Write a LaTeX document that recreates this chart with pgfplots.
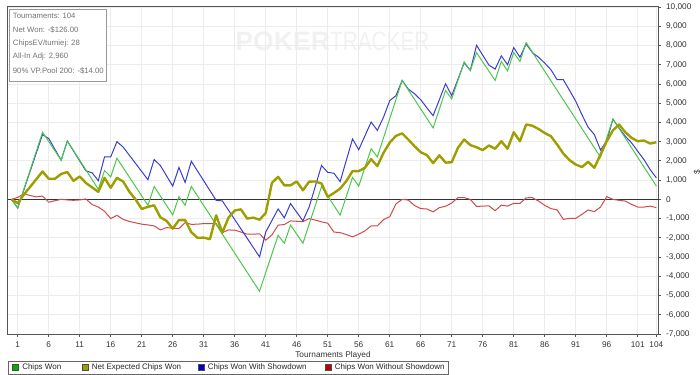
\documentclass[border=0pt]{standalone}
\usepackage{fontspec}
\setmainfont{Liberation Sans}
\usepackage{graphicx}
\usepackage{pgfplots}
\pgfplotsset{compat=1.18}
\definecolor{cgreen}{RGB}{75,200,75}
\definecolor{colive}{RGB}{158,158,0}
\definecolor{cblue}{RGB}{60,60,205}
\definecolor{cred}{RGB}{205,75,75}
\definecolor{gridc}{RGB}{236,236,236}
\definecolor{axc}{RGB}{85,85,85}
\definecolor{infotext}{RGB}{115,115,115}
\definecolor{wm}{RGB}{241,241,241}
\begin{document}
\begin{tikzpicture}
\path[use as bounding box] (0,0) rectangle (525pt,281.25pt);
% watermark
\node[anchor=west, inner sep=0pt, text=wm] at (176.25pt,250.5pt)
  {\fontsize{20}{20}\selectfont\bfseries POKER\mdseries\scalebox{0.78}[1]{TRACKER}};
\begin{axis}[
  at={(5.625pt,30.75pt)}, anchor=south west,
  scale only axis, width=488.25pt, height=245.25pt,
  xmin=-0.65, xmax=104.35, ymin=-7000, ymax=10000,
  xtick={1,6,...,101,104},
  ytick={-7000,-6000,...,10000},
  scaled y ticks=false, scaled x ticks=false,
  xtick pos=bottom, ytick pos=right, yticklabel pos=right,
  grid=major, grid style={gridc, line width=0.6pt},
  axis line style={axc, line width=0.75pt},
  tick style={axc, line width=0.6pt},
  tick align=outside, major tick length=2.2pt,
  ticklabel style={font=\fontsize{6.2}{7}\selectfont, text=black!80},
  /pgf/number format/assume math mode=true,
  /pgf/number format/1000 sep={,},
  xlabel={Tournaments Played},
  xlabel style={font=\fontsize{6.2}{7}\selectfont, text=black!80, yshift=4pt},
  clip=false,
]
\draw[black!80, line width=0.75pt] (axis cs:-0.65,0) -- (axis cs:104.35,0);
% Chips Won Without Showdown
\addplot[cred, line width=0.75pt] coordinates {
(0,0) (1,100) (2,290) (3,200) (4,130) (5,170) (6,-150) (7,-70) (8,0) (9,-30)
(10,-50) (11,-30) (12,20) (13,-270) (14,-400) (15,-620) (16,-1000) (17,-830) (18,-1040) (19,-1150)
(20,-1220) (21,-1290) (22,-1330) (23,-1380) (24,-1590) (25,-1470) (26,-1500) (27,-1520) (28,-1210) (29,-1300)
(30,-1290) (31,-1260) (32,-1260) (33,-1260) (34,-1730) (35,-1590) (36,-1600) (37,-1700) (38,-1810) (39,-1810)
(40,-1790) (41,-2120) (42,-1850) (43,-1340) (44,-1310) (45,-1120) (46,-1140) (47,-1160) (48,-1000) (49,-1080)
(50,-1170) (51,-1240) (52,-1700) (53,-1730) (54,-1830) (55,-1950) (56,-1810) (57,-1640) (58,-1380) (59,-1380)
(60,-1050) (61,-900) (62,-240) (63,0) (64,-40) (65,-320) (66,-480) (67,-500) (68,-650) (69,-430)
(70,-360) (71,-190) (72,90) (73,90) (74,0) (75,-370) (76,-350) (77,-340) (78,-590) (79,-300)
(80,-350) (81,-210) (82,-210) (83,80) (84,90) (85,-90) (86,-310) (87,-480) (88,-550) (89,-1040)
(90,-990) (91,-990) (92,-780) (93,-550) (94,-640) (95,-400) (96,140) (97,0) (98,-50) (99,-90)
(100,-260) (101,-400) (102,-400) (103,-350) (104,-430)
};
% Chips Won With Showdown
\addplot[cblue, line width=0.75pt] coordinates {
(0,0) (1,-450) (5,3370) (6,3160) (8,2040) (9,3030) (12,1480) (13,1380) (14,970) (15,2210)
(16,2210) (17,3000) (18,2720) (22,1020) (23,2070) (24,1760) (26,690) (27,1660) (28,880) (29,1980)
(33,-50) (34,-80) (40,-2990) (41,-1700) (43,-500) (44,-960) (45,-220) (47,-1120) (48,-400) (50,1760)
(51,1400) (52,1360) (53,920) (55,3140) (56,2580) (58,4020) (59,3590) (60,4270) (61,5130) (62,5390)
(63,6180) (64,5730) (65,5490) (66,5180) (67,4750) (68,4350) (70,6010) (71,5390) (73,7100) (74,6700)
(75,8010) (77,6980) (78,6770) (79,7460) (80,7000) (81,7890) (82,7390) (83,8080) (84,7630) (85,7390)
(86,7080) (87,6740) (88,6220) (89,6220) (90,5670) (91,5100) (92,4400) (93,3750) (94,3370) (95,2560)
(96,3050) (97,4160) (98,3700) (99,3280) (100,2940) (101,2500) (102,2070) (103,1550) (104,1120)
};
% Chips Won
\addplot[cgreen, line width=0.75pt] coordinates {
(0,0) (1,-450) (5,3490) (8,2040) (9,3040) (14,520) (15,1500) (16,1170) (17,2140) (22,-310)
(23,670) (26,-810) (27,140) (28,-300) (29,670) (40,-4780) (43,-1870) (44,-2280) (45,-1340) (47,-2280)
(50,670) (53,-820) (55,1140) (56,690) (58,2630) (59,2210) (63,6180) (68,3710) (70,5660) (71,5220)
(73,7150) (74,6700) (75,7630) (78,6180) (79,7170) (80,6680) (81,7630) (82,7170) (83,8150) (95,2190)
(97,4180) (104,690)
};
% Net Expected Chips Won
\addplot[colive, line width=1.8pt, line join=round] coordinates {
(0,0) (1,-200) (2,250) (3,650) (4,1050) (5,1450) (6,1070) (7,1070) (8,1320) (9,1420)
(10,960) (11,1190) (12,850) (13,620) (14,390) (15,1120) (16,600) (17,1120) (18,930) (19,400)
(20,0) (21,-500) (22,-390) (23,-310) (24,-930) (25,-1120) (26,-1520) (27,-1080) (28,-1080) (29,-1710)
(30,-2000) (31,-1990) (32,-2070) (33,-830) (34,-1730) (35,-950) (36,-580) (37,-520) (38,-1000) (39,-950)
(40,-1060) (41,-710) (42,860) (43,1170) (44,730) (45,730) (46,930) (47,470) (48,920) (49,930)
(50,820) (51,130) (52,330) (53,560) (54,950) (55,1470) (56,1470) (57,1640) (58,2090) (59,1730)
(60,2420) (61,2950) (62,3300) (63,3430) (64,3110) (65,2760) (66,2450) (67,2300) (68,1880) (69,2290)
(70,1910) (71,1930) (72,2680) (73,3110) (74,2820) (75,2710) (76,2560) (77,2800) (78,2630) (79,3020)
(80,2630) (81,3490) (82,3020) (83,3890) (84,3830) (85,3660) (86,3450) (87,3280) (88,2850) (89,2380)
(90,2040) (91,1810) (92,1680) (93,1950) (94,1640) (95,2330) (96,3020) (97,3590) (98,3890) (99,3490)
(100,3200) (101,3020) (102,3060) (103,2900) (104,2970)
};
\end{axis}
% y label
\node[rotate=90, font=\fontsize{6.2}{7}\selectfont, text=black!80] at (522.75pt,152.25pt) {\$};
% info box
\draw[black!40, fill=white, line width=0.6pt] (6.75pt,220.5pt) rectangle (79.5pt,274.5pt);
\begin{scope}[every node/.style={anchor=west, inner sep=0pt, text=infotext, font=\fontsize{5.8}{7}\selectfont}]
\node at (9.5pt,269.25pt) {Tournaments: 104};
\node at (9.5pt,258.75pt) {Net Won: -\$126.00};
\node at (9.5pt,248.75pt) {ChipsEV/turniej: 28};
\node at (9.5pt,238.75pt) {All-In Adj: 2,960};
\node at (9.5pt,228.25pt) {90\% VP.Pool 200: -\$14.00};
\end{scope}
% legend
\draw[black!60, fill=white, line width=0.6pt] (6pt,0.75pt) rectangle (336pt,10.5pt);
\begin{scope}[every node/.style={anchor=west, inner sep=0pt, text=black!85, font=\fontsize{6}{7}\selectfont}]
\draw[black!70, fill=green!70!black, line width=0.4pt] (9pt,3.4pt) rectangle (13.5pt,7.9pt);
\node at (16.5pt,5.6pt) {Chips Won};
\draw[black!70, fill=colive, line width=0.4pt] (61.5pt,3.4pt) rectangle (66pt,7.9pt);
\node at (66.75pt,5.6pt) {\hspace{2pt}Net Expected Chips Won};
\draw[black!70, fill=blue!75!black, line width=0.4pt] (148.5pt,3.4pt) rectangle (153pt,7.9pt);
\node at (153.75pt,5.6pt) {\hspace{2pt}Chips Won With Showdown};
\draw[black!70, fill=red!75!black, line width=0.4pt] (243.75pt,3.4pt) rectangle (248.25pt,7.9pt);
\node at (249pt,5.6pt) {\hspace{2pt}Chips Won Without Showdown};
\end{scope}
\end{tikzpicture}
\end{document}
